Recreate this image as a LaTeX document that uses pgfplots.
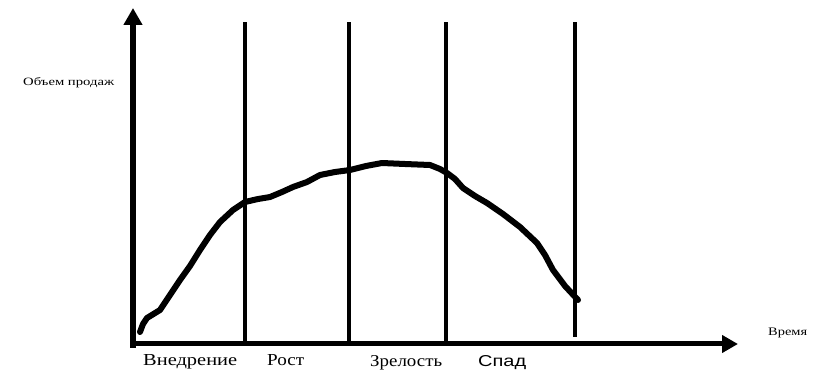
\documentclass[border=0pt]{standalone}
\usepackage{pgfplots}
\pgfplotsset{compat=1.18}
\usepackage{fontspec}
\setmainfont{Liberation Serif}
\newfontfamily\arialfont{Liberation Sans}
\usetikzlibrary{arrows.meta}
\begin{document}
\begin{tikzpicture}
\begin{axis}[
  scale only axis, width=825bp, height=370bp,
  xmin=0, xmax=825, ymin=0, ymax=370,
  hide axis, clip=false,
]
% frame for bounding box
\addplot[draw=none] coordinates {(0,0) (825,370)};
% y axis
\addplot[black, line width=6bp, -{Triangle[length=17bp,width=18bp]}] coordinates {(133,22) (133,362)};
% x axis
\addplot[black, line width=5bp, -{Triangle[length=16bp,width=17bp]}] coordinates {(130,26) (738,26)};
% stage boundaries
\addplot[black, line width=4.5bp] coordinates {(245,26) (245,348)};
\addplot[black, line width=4.5bp] coordinates {(349,26) (349,348)};
\addplot[black, line width=4.5bp] coordinates {(446,26) (446,348)};
\addplot[black, line width=4.5bp] coordinates {(575,33) (575,348)};
% life-cycle curve
\addplot[black, line width=6bp, line cap=round, line join=round] coordinates {
(140,38) (143,46) (147,52) (160,60) (170,75) (180,90) (190,104) (200,120)
(210,135) (220,148) (233,160) (245,168) (258,171) (270,173) (282,178)
(293,183) (307,188) (320,195) (335,198) (350,200) (366,204) (382,207)
(405,206) (430,205) (440,201) (447,197) (455,191) (463,182) (475,174)
(487,167) (503,156) (520,143) (537,127) (545,115) (553,100) (565,84) (578,70)
};
% labels
\node[anchor=base west, inner sep=0pt] at (axis cs:23,284) {\resizebox{91bp}{8bp}{Объем продаж}};
\node[anchor=base west, inner sep=0pt] at (axis cs:768,35) {\resizebox{39bp}{7.5bp}{Время}};
\node[anchor=base west, inner sep=0pt] at (axis cs:143,4) {\resizebox{94bp}{11bp}{Внедрение}};
\node[anchor=base west, inner sep=0pt] at (axis cs:267,4) {\resizebox{37bp}{11bp}{Рост}};
\node[anchor=base west, inner sep=0pt] at (axis cs:370,4) {\resizebox{72bp}{11bp}{Зрелость}};
\node[anchor=base west, inner sep=0pt] at (axis cs:478,4) {\resizebox{48bp}{11bp}{\arialfont Спад}};
\end{axis}
\end{tikzpicture}
\end{document}
